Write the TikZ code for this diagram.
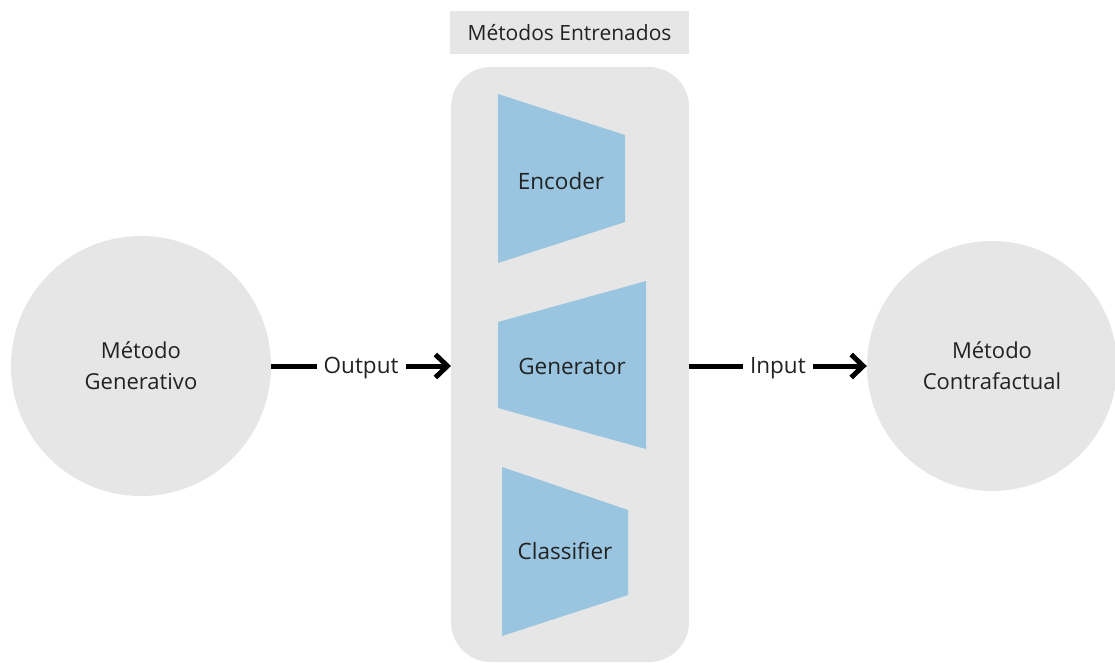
\documentclass[tikz,border=0pt]{standalone}
\usepackage{fontspec}
\setmainfont{Open Sans}
\usetikzlibrary{arrows.meta}
\definecolor{panel}{HTML}{E6E6E6}
\definecolor{netblue}{HTML}{99C5E0}
\definecolor{ink}{HTML}{222222}
\begin{document}
\begin{tikzpicture}[x=1pt,y=-1pt,
  lbl/.style={font=\fontsize{22.5}{27}\selectfont, text=ink},
  circ/.style={circle, fill=panel, minimum size=#1, inner sep=0pt, align=center, font=\fontsize{22}{31}\selectfont, text=ink},
  net/.style={fill=netblue},
  conn/.style={line width=5pt, -{Straight Barb[length=12pt,width=23pt,line width=5pt]}},
  tag/.style={fill=white, inner sep=7pt, yshift=-2pt, font=\fontsize{22.5}{27}\selectfont, text=ink}]
\useasboundingbox (0,0) rectangle (1115,662);
% title
\node[fill=panel, minimum width=239pt, minimum height=43pt, inner sep=0pt, font=\fontsize{21}{25}\selectfont, text=ink] (title) at (569.5,32.5) {Métodos Entrenados};
% panel
\fill[panel, rounded corners=40pt] (451,67) rectangle (689,662);
\coordinate (panelW) at (451,366);
\coordinate (panelE) at (689,366);
% trapezoids
\fill[net] (498,94) -- (625,135) -- (625,222) -- (498,263) -- cycle;
\node[lbl] (enc) at (561,181) {Encoder};
\fill[net] (498,322) -- (646,281) -- (646,449) -- (498,408) -- cycle;
\node[lbl] (gen) at (572,366) {Generator};
\fill[net] (502,467) -- (628,510) -- (628,595) -- (502,636) -- cycle;
\node[lbl] (cls) at (565,551) {Classifier};
% circles
\node[circ=260pt] (gm) at (141,366) {Método\\Generativo};
\node[circ=250pt] (cm) at (992,366) {Método\\Contrafactual};
% connectors
\draw[conn] (gm.east |- panelW) -- node[tag] {Output} (panelW);
\draw[conn] (panelE) -- node[tag] {Input} (cm.west |- panelE);
\end{tikzpicture}
\end{document}
